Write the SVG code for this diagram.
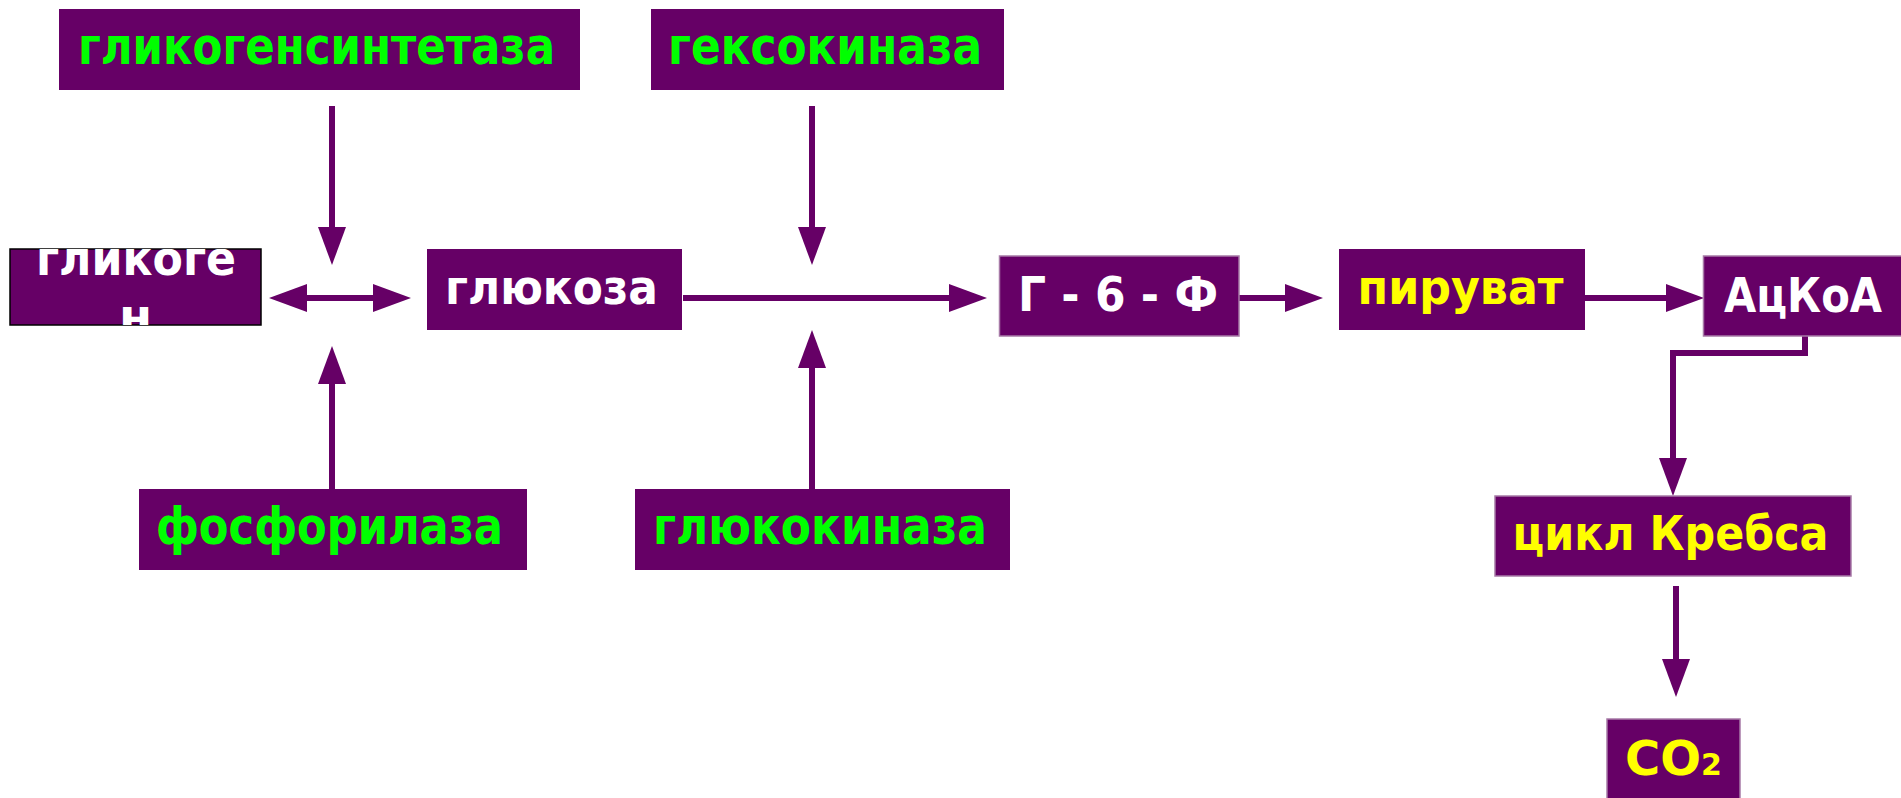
<svg xmlns="http://www.w3.org/2000/svg" width="1901" height="798" viewBox="0 0 1901 798">
  <style>
    .box { fill: #660066; }
    .edge { stroke: #a77aa7; stroke-width: 1.5; }
    .dark { stroke: #000000; stroke-width: 1.5; }
    .lbl { font-family: "DejaVu Sans", "Liberation Sans", sans-serif; font-weight: bold; }
    .enz { fill: #00ff00; font-size: 52px; }
    .wht { fill: #ffffff; font-size: 48px; }
    .yel { fill: #ffff00; font-size: 48px; }
    .link { fill: none; stroke: #660066; stroke-width: 6; }
  </style>
  <defs>
    <marker id="head" viewBox="0 0 38 28" refX="0" refY="14" markerWidth="38" markerHeight="28" markerUnits="userSpaceOnUse" orient="auto-start-reverse">
      <path d="M0,0 L38,14 L0,28 Z" fill="#660066"/>
    </marker>
    <clipPath id="clipGlycogen">
      <rect x="10" y="249" width="251" height="76"/>
    </clipPath>
  </defs>

  <rect width="1901" height="798" fill="#ffffff"/>

  <!-- connectors -->
  <g id="connectors">
    <line class="link" x1="332" y1="106" x2="332" y2="227" marker-end="url(#head)"/>
    <line class="link" x1="812" y1="106" x2="812" y2="227" marker-end="url(#head)"/>
    <line class="link" x1="307" y1="298" x2="373" y2="298" marker-start="url(#head)" marker-end="url(#head)"/>
    <line class="link" x1="683" y1="298" x2="949" y2="298" marker-end="url(#head)"/>
    <line class="link" x1="332" y1="489" x2="332" y2="384" marker-end="url(#head)"/>
    <line class="link" x1="812" y1="489" x2="812" y2="368" marker-end="url(#head)"/>
    <line class="link" x1="1239" y1="298" x2="1285" y2="298" marker-end="url(#head)"/>
    <line class="link" x1="1585" y1="298" x2="1666" y2="298" marker-end="url(#head)"/>
    <polyline class="link" points="1805,336 1805,353 1673,353 1673,458" marker-end="url(#head)"/>
    <line class="link" x1="1676" y1="586" x2="1676" y2="659" marker-end="url(#head)"/>
  </g>

  <g id="glycogen-synthase">
    <rect class="box" x="59" y="9" width="521" height="81"/>
    <text class="lbl enz" x="78" y="64" textLength="477" lengthAdjust="spacingAndGlyphs">гликогенсинтетаза</text>
  </g>

  <g id="hexokinase">
    <rect class="box" x="651" y="9" width="353" height="81"/>
    <text class="lbl enz" x="668" y="64" textLength="314" lengthAdjust="spacingAndGlyphs">гексокиназа</text>
  </g>

  <g id="glycogen">
    <rect class="box dark" x="10" y="249" width="251" height="76"/>
    <g clip-path="url(#clipGlycogen)">
      <text class="lbl wht" x="36" y="275" font-size="46" textLength="200" lengthAdjust="spacingAndGlyphs">гликоге</text>
      <text class="lbl wht" x="135.5" y="333" font-size="46" text-anchor="middle">н</text>
    </g>
  </g>

  <g id="glucose">
    <rect class="box" x="427" y="249" width="255" height="81"/>
    <text class="lbl wht" x="445" y="304" textLength="213" lengthAdjust="spacingAndGlyphs">глюкоза</text>
  </g>

  <g id="g6p">
    <rect class="box edge" x="999.5" y="256" width="239.5" height="80"/>
    <text class="lbl wht" x="1018" y="311" textLength="200" lengthAdjust="spacingAndGlyphs">Г - 6 - Ф</text>
  </g>

  <g id="pyruvate">
    <rect class="box" x="1339" y="249" width="246" height="81"/>
    <text class="lbl yel" x="1357.5" y="304" font-size="50" textLength="206" lengthAdjust="spacingAndGlyphs">пируват</text>
  </g>

  <g id="acetyl-coa">
    <rect class="box edge" x="1703.5" y="256" width="200" height="80"/>
    <text class="lbl wht" x="1724" y="311.5" textLength="158" lengthAdjust="spacingAndGlyphs">АцКоА</text>
  </g>

  <g id="phosphorylase">
    <rect class="box" x="139" y="489" width="388" height="81"/>
    <text class="lbl enz" x="156" y="544" textLength="347" lengthAdjust="spacingAndGlyphs">фосфорилаза</text>
  </g>

  <g id="glucokinase">
    <rect class="box" x="635" y="489" width="375" height="81"/>
    <text class="lbl enz" x="653" y="544" textLength="334" lengthAdjust="spacingAndGlyphs">глюкокиназа</text>
  </g>

  <g id="krebs-cycle">
    <rect class="box edge" x="1495" y="496" width="356" height="80"/>
    <text class="lbl yel" x="1512.5" y="550" font-size="46" textLength="316" lengthAdjust="spacingAndGlyphs">цикл Кребса</text>
  </g>

  <g id="co2">
    <rect class="box edge" x="1607" y="719" width="133" height="82"/>
    <text class="lbl yel" x="1625" y="775" font-size="46">CO<tspan font-size="30">2</tspan></text>
  </g>
</svg>
